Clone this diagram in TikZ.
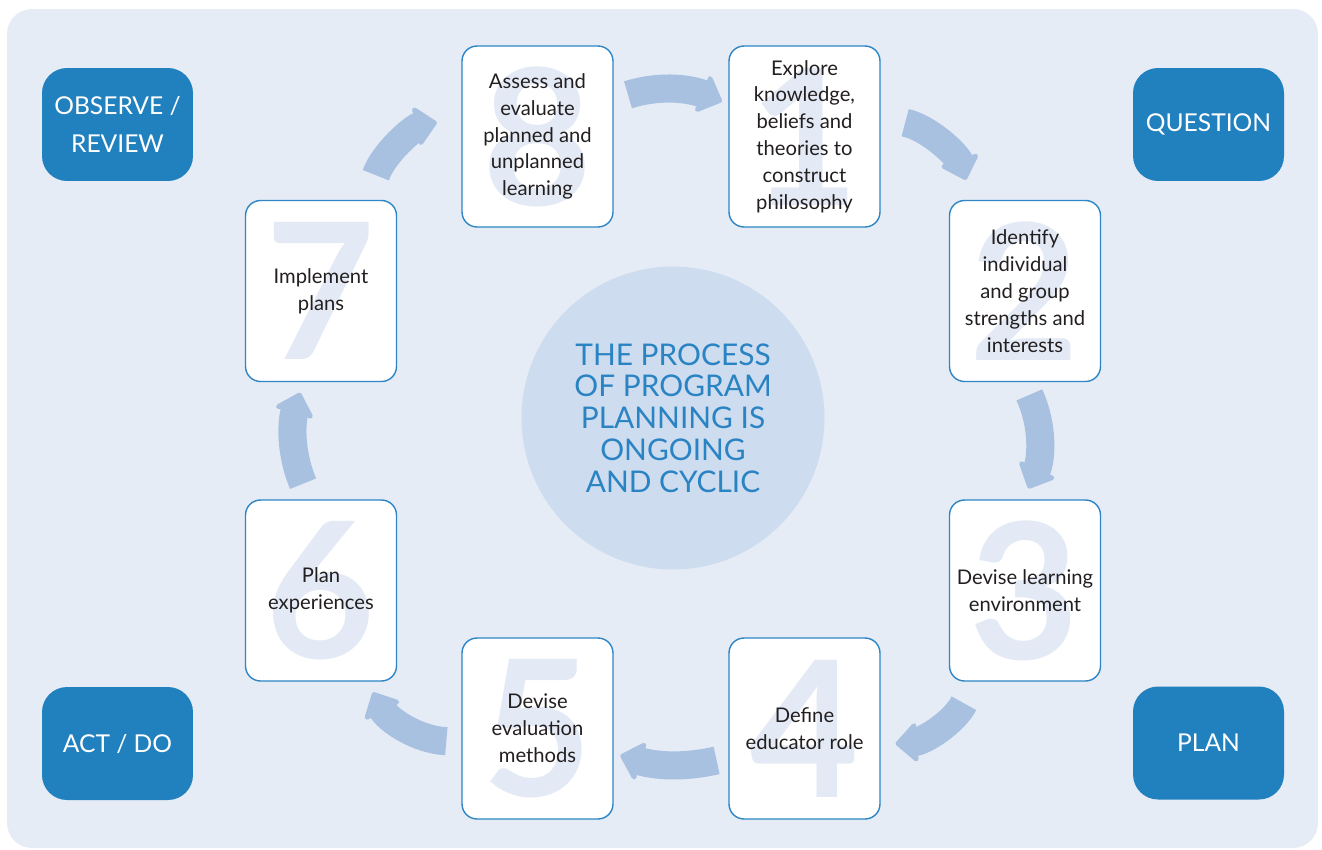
\documentclass[tikz,border=0pt]{standalone}
\usepackage{fontspec}
\setmainfont{Lato}
\usetikzlibrary{arrows.meta, positioning}
\definecolor{panelbg}{HTML}{E5ECF6}
\definecolor{boxline}{HTML}{2E86C6}
\definecolor{phaseblue}{HTML}{2180BE}
\definecolor{arrowblue}{HTML}{A8C1E1}
\definecolor{hubfill}{HTML}{CDDCEE}
\definecolor{hubtext}{HTML}{2A83C3}
\definecolor{digitpale}{HTML}{E3EAF5}
\definecolor{bodytext}{HTML}{231F20}
\tikzset{
    digit/.style={text=digitpale, inner sep=0pt, font=\fontsize{108}{108}\selectfont\bfseries}, % big pale number behind each step
    stepbox/.style={draw=boxline, line width=0.8pt, fill=white, rounded corners=0.3cm,
        minimum width=3.02cm, minimum height=3.62cm, align=center, text=bodytext,
        font=\fontsize{11.5}{15.3}\selectfont,
        path picture={\node[digit] at (path picture bounding box.center) {#1};}}, % the eight steps
    phase/.style={fill=phaseblue, rounded corners=0.5cm, minimum width=3.02cm, minimum height=2.26cm,
        align=center, text=white, font=\fontsize{14}{22}\selectfont}, % dark corner labels
    hub/.style={circle, fill=hubfill, minimum size=6.06cm, align=center, text=hubtext,
        font=\fontsize{17}{18.1}\selectfont}, % circle in the middle
    cyclearrow/.style={arrowblue, line width=16pt, -{Stealth[length=14pt, width=27pt, inset=3pt, round]}}, % fat curved arrows
}
\begin{document}
\begin{tikzpicture}[x=0.02cm, y=-0.02cm]
\useasboundingbox (0,0) rectangle (1322,849);
\fill[panelbg, rounded corners=0.5cm] (7,9) rectangle (1318,848);

% corner labels
\node[phase] (observe) at (117.5,124.5) {OBSERVE /\\REVIEW};
\node[phase] (question) at (1208.5,124.5) {QUESTION};
\node[phase] (act) at (117.5,743.5) {ACT / DO};
\node[phase] (plan) at (1208.5,743) {PLAN};

\node[hub] (hub) at (673,418) {THE PROCESS\\OF PROGRAM\\PLANNING IS\\ONGOING\\AND CYCLIC};

% steps
\node[stepbox=1] (s1) at (804.5,136.5) {Explore\\knowledge,\\beliefs and\\theories to\\construct\\philosophy};
\node[stepbox=2] (s2) at (1025,291) {Identify\\individual\\and group\\strengths and\\interests};
\node[stepbox=3] (s3) at (1025,590.5) {Devise learning\\environment};
\node[stepbox=4] (s4) at (804.5,728.5) {Define\\educator role};
\node[stepbox=5] (s5) at (537.5,728.5) {Devise\\evaluation\\methods};
\node[stepbox=6] (s6) at (321,590.5) {Plan\\experiences};
\node[stepbox=7] (s7) at (321,291) {Implement\\plans};
\node[stepbox=8] (s8) at (537.5,136.5) {Assess and\\evaluate\\planned and\\unplanned\\learning};

% arrows round the cycle
\draw[cyclearrow, shorten <=0.3cm, shorten >=0.14cm] (s8.26) to[bend left=20] (s1.157);
\draw[cyclearrow, shorten <=0.5cm, shorten >=0.42cm] (s1.14) to[bend left=30] (s2.120);
\draw[cyclearrow, shorten <=0.28cm, shorten >=0.24cm] (s2.-91) to[bend left=25] (s3.91);
\draw[cyclearrow, shorten <=0.48cm, shorten >=0.3cm] (s3.241) to[bend left=30] (s4.-12);
\draw[cyclearrow, shorten <=0.24cm, shorten >=0.14cm] (s4.201) to[bend left=15] (s5.-18);
\draw[cyclearrow, shorten <=0.3cm, shorten >=0.24cm] (s5.190) to[bend left=30] (s6.297);
\draw[cyclearrow, shorten <=0.34cm, shorten >=0.22cm] (s6.97) to[bend left=20] (s7.-101);
\draw[cyclearrow, shorten <=0.52cm, shorten >=0.5cm] (s7.63) to[bend left=30] (s8.166);
\end{tikzpicture}
\end{document}
